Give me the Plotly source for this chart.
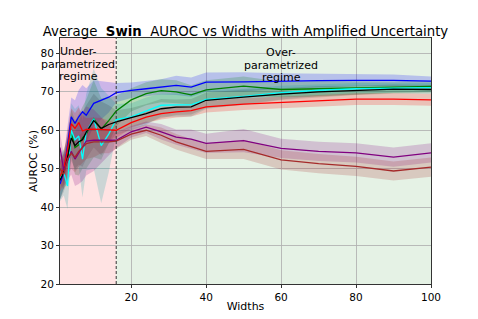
import plotly.graph_objects as go

widths = [1, 2, 3, 4, 5, 6, 7, 8, 10, 12, 14, 16, 20, 24, 28, 32, 36, 40, 50, 60, 70, 80, 90, 100]

blue_mean = [46, 49, 56, 63.5, 61.8, 63.5, 64.8, 63.9, 67, 67.8, 68.6, 69.8, 70.4, 70.8, 71.3, 71.7, 71.2, 72.5, 72.6, 72.8, 72.9, 73.0, 73.0, 72.8]
green_mean = [47, 50, 52, 59.5, 55.5, 56.2, 58, 59, 63, 60.3, 62.5, 65, 67.9, 69.5, 70.3, 70.0, 69.2, 70.5, 71.5, 70.6, 70.8, 71.0, 71.2, 71.4]
cyan_mean = [47.5, 49, 45.5, 60, 57.5, 58.5, 52.5, 59.5, 63, 56, 59, 62.8, 63.5, 65, 66.5, 66.6, 66.6, 68, 68.8, 69.8, 70.4, 70.8, 71.0, 71.1]
black_mean = [47, 49, 53, 58, 56, 57, 57.5, 59.5, 62.5, 60.5, 61.5, 62.2, 63.3, 64.3, 65.6, 66, 66.1, 67.8, 68.6, 69.4, 70, 70.4, 70.7, 70.6]
red_mean = [48, 50, 55, 61.7, 60.5, 62, 59.8, 60.2, 60.3, 60.2, 60, 60, 62, 63.4, 64.3, 64.8, 65.1, 66.1, 66.8, 67.2, 67.6, 68.1, 68.1, 67.9]
purple_mean = [55.5, 49.5, 52, 54.5, 52.5, 54, 55.8, 57.2, 57.4, 57.4, 57.4, 57.4, 59.6, 60.8, 59.6, 58.2, 57.7, 56.6, 57.3, 55.3, 54.5, 54.1, 53, 54.1]
brown_mean = [50, 48.5, 52.5, 54, 53, 54.5, 55.5, 56.5, 57, 57, 57, 57.2, 59, 60, 58.7, 57, 55.7, 54.5, 55, 52.3, 51.3, 50.6, 49.4, 50.4]

blue_std = [4, 4, 5, 5, 6, 7, 7, 7, 6, 5, 4, 2.5, 2, 2, 2, 2.5, 2.5, 2.5, 2.5, 2, 1.8, 1.5, 1.5, 1.2]
green_std = [5, 5, 6, 6, 7, 8, 8, 9, 10, 8, 6, 4, 3, 3, 3, 3, 2.5, 2.5, 2.5, 2, 2, 1.8, 1.5, 1.5]
cyan_std = [6, 6, 6, 7, 8, 8, 10, 10, 13, 15, 10, 4, 3.5, 3.5, 3, 3, 3, 2.5, 2, 1.8, 1.5, 1.5, 1.2, 1.2]
black_std = [5, 5, 6, 6, 6, 6, 7, 7, 7, 7, 5, 3, 2.5, 2.5, 2.5, 2, 2, 2, 2, 1.5, 1.5, 1.2, 1.2, 1.2]
red_std = [4, 4, 5, 4, 4, 4, 4, 3, 3, 3, 2.5, 2, 1.5, 1.5, 1.5, 1.5, 1.5, 1.5, 1.5, 1.5, 1.5, 1.5, 1.5, 1.5]
purple_std = [4, 4, 5, 6, 7, 8, 9, 9, 8, 6, 4, 2, 1.5, 1.5, 2, 2, 2.5, 2.5, 3, 2.5, 2.5, 2.5, 2.5, 2.5]
brown_std = [4, 4, 4, 4, 4, 4, 4, 4, 4, 3, 3, 2, 1.5, 1.5, 2, 2, 2, 2, 2.5, 2.5, 2.5, 2.5, 2.5, 2.5]

series = [
    ("blue", blue_mean, blue_std, "rgb(0,0,255)", "rgba(0,0,255,0.2)"),
    ("green", green_mean, green_std, "rgb(0,128,0)", "rgba(0,128,0,0.2)"),
    ("cyan", cyan_mean, cyan_std, "rgb(0,255,255)", "rgba(0,160,160,0.2)"),
    ("black", black_mean, black_std, "rgb(0,0,0)", "rgba(0,0,0,0.12)"),
    ("red", red_mean, red_std, "rgb(255,0,0)", "rgba(255,0,0,0.2)"),
    ("purple", purple_mean, purple_std, "rgb(128,0,128)", "rgba(128,0,128,0.2)"),
    ("brown", brown_mean, brown_std, "rgb(165,42,42)", "rgba(165,42,42,0.2)"),
]

split_width = 16
under_lines = ["Under-", "parametrized", "regime"]
over_lines = ["Over-", "parametrized", "regime"]
label_y = [80.4, 77.0, 73.9]

fig = go.Figure()
for name, m, s, lc, fc in series:
    upper = [a + b for a, b in zip(m, s)]
    lower = [a - b for a, b in zip(m, s)]
    fig.add_trace(go.Scatter(x=widths + widths[::-1], y=upper + lower[::-1], fill="toself",
                             fillcolor=fc, line=dict(width=0), mode="lines",
                             hoverinfo="skip", showlegend=False))
for name, m, s, lc, fc in series:
    fig.add_trace(go.Scatter(x=widths, y=m, mode="lines", line=dict(color=lc, width=1.3),
                             name=name, showlegend=False))

fig.add_shape(type="rect", xref="x", yref="paper", x0=1, x1=split_width, y0=0, y1=1,
              fillcolor="rgba(255,0,0,0.11)", line=dict(width=0), layer="below")
fig.add_shape(type="rect", xref="x", yref="paper", x0=split_width, x1=100, y0=0, y1=1,
              fillcolor="rgba(0,128,0,0.1)", line=dict(width=0), layer="below")
fig.add_shape(type="line", xref="x", yref="paper", x0=split_width, x1=split_width, y0=0, y1=1,
              line=dict(color="#333", width=1, dash="3px,2px"), layer="above")

font = "DejaVu Sans, Verdana, sans-serif"
for txt, yy in zip(under_lines, label_y):
    fig.add_annotation(x=5.9, y=yy, xref="x", yref="y", text=txt, showarrow=False,
                       font=dict(family=font, size=11, color="black"))
for txt, yy in zip(over_lines, label_y):
    fig.add_annotation(x=60, y=yy - 0.2, xref="x", yref="y", text=txt, showarrow=False,
                       font=dict(family=font, size=11, color="black"))

axis_common = dict(showgrid=True, gridcolor="rgba(176,176,176,0.85)", gridwidth=0.8,
                   showline=True, linecolor="#333", linewidth=1, mirror=True,
                   ticks="outside", ticklen=3, tickcolor="#333", zeroline=False,
                   automargin=False,
                   tickfont=dict(family=font, size=10.5, color="black"))
fig.update_xaxes(range=[1, 100], tickvals=[20, 40, 60, 80, 100],
                 title=dict(text="Widths", font=dict(family=font, size=11, color="black"), standoff=0),
                 **axis_common)
fig.update_yaxes(range=[20, 84], tickvals=[20, 30, 40, 50, 60, 70, 80],
                 title=dict(text="AUROC (%)", font=dict(family=font, size=11, color="black"), standoff=0),
                 **axis_common)

fig.update_layout(
    width=478, height=319,
    margin=dict(l=60, r=47, t=38, b=35),
    paper_bgcolor="white", plot_bgcolor="white",
    title=dict(text="Average  <b>Swin</b>  AUROC vs Widths with Amplified Uncertainty",
               x=(60 + 431) / 2 / 478, xanchor="center", y=1 - 31 / 319, yanchor="middle",
               font=dict(family=font, size=13.3, color="black")),
    showlegend=False,
)

fig.write_html("out.html", config={"displayModeBar": False},
               post_script="document.body.style.margin='0';document.body.style.overflow='hidden';")
